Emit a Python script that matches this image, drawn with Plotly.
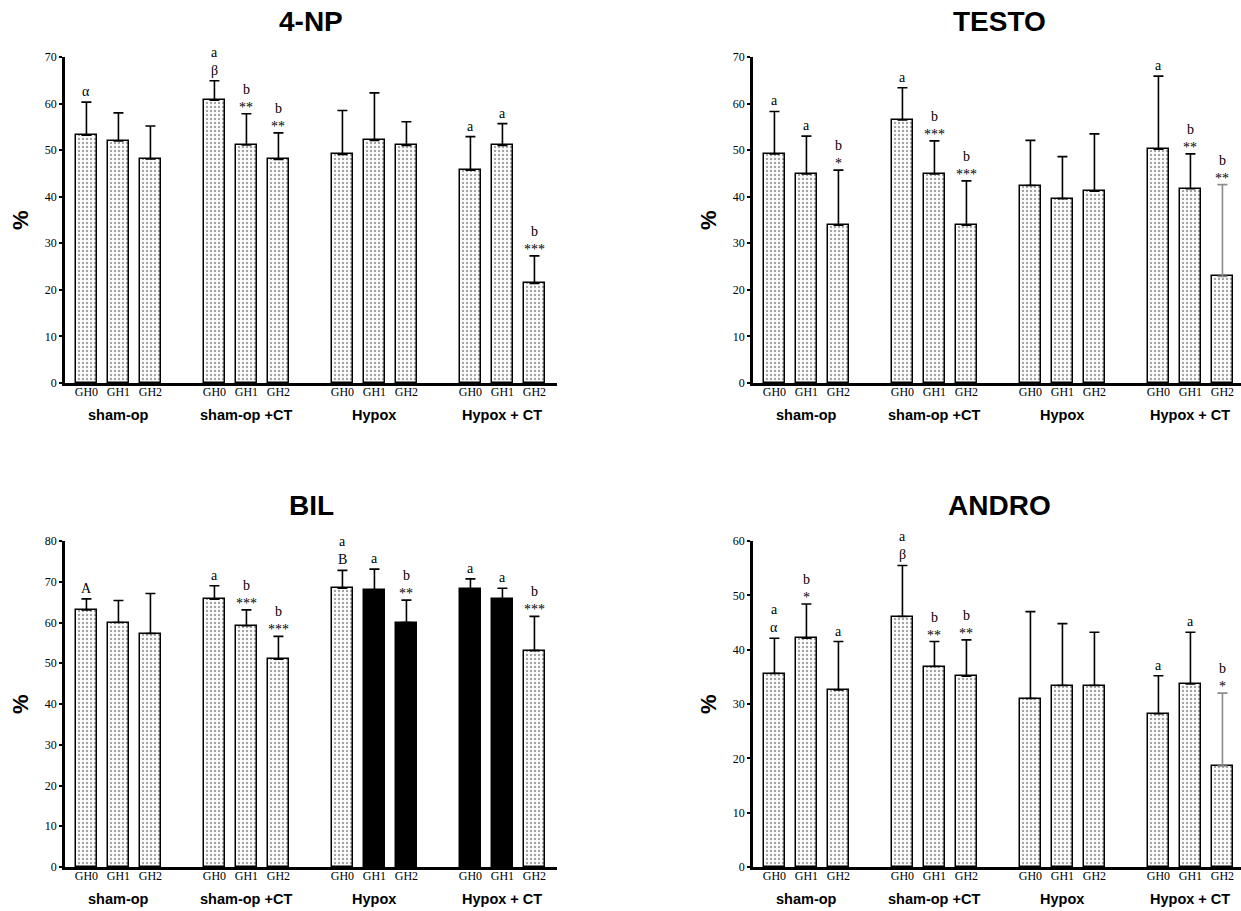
import plotly.graph_objects as go

W, H = 1241, 911

groups = ["sham-op", "sham-op +CT", "Hypox", "Hypox + CT"]
subgroups = ["GH0", "GH1", "GH2"]

np4_mean = [53.2, 52.0, 48.1, 60.7, 51.1, 48.0, 49.1, 52.1, 51.0, 45.7, 51.0, 21.4]
np4_sd = [7.1, 6.0, 7.1, 4.2, 6.7, 5.7, 9.4, 10.2, 5.1, 7.2, 4.7, 5.9]
np4_lower = ["α", "", "", "β", "**", "**", "", "", "", "a", "a", "***"]
np4_upper = ["", "", "", "a", "b", "b", "", "", "", "", "", "b"]

testo_mean = [49.2, 44.9, 33.9, 56.5, 44.9, 33.9, 42.4, 39.6, 41.2, 50.2, 41.7, 22.9]
testo_sd = [9.1, 8.1, 11.8, 6.9, 7.1, 9.5, 9.7, 9.0, 12.3, 15.7, 7.5, 19.7]
testo_lower = ["a", "a", "*", "a", "***", "***", "", "", "", "a", "**", "**"]
testo_upper = ["", "", "b", "", "b", "b", "", "", "", "", "b", "b"]

bil_mean = [63.1, 60.0, 57.3, 65.7, 59.2, 51.0, 68.4, 68.0, 60.0, 68.1, 65.8, 53.1]
bil_sd = [2.7, 5.4, 9.8, 3.3, 3.9, 5.6, 4.4, 5.1, 5.5, 2.6, 2.6, 8.4]
bil_lower = ["A", "", "", "a", "***", "***", "B", "a", "**", "a", "a", "***"]
bil_upper = ["", "", "", "", "b", "b", "a", "", "b", "", "", "b"]
bil_solid = [False, False, False, False, False, False, False, True, True, True, True, False]

andro_mean = [35.6, 42.1, 32.6, 46.1, 36.9, 35.1, 31.0, 33.4, 33.4, 28.2, 33.7, 18.6]
andro_sd = [6.5, 6.3, 8.9, 9.4, 4.6, 6.7, 16.0, 11.4, 9.8, 7.0, 9.5, 13.4]
andro_lower = ["α", "*", "a", "β", "**", "**", "", "", "", "a", "a", "*"]
andro_upper = ["a", "b", "", "a", "b", "b", "", "", "", "", "", "b"]

# whisker style (light grey whiskers in the original print)
grey_whisker = {"TESTO": [11], "ANDRO": [11]}

panels = [
    dict(title="4-NP", mean=np4_mean, sd=np4_sd, lower=np4_lower, upper=np4_upper,
         solid=[False] * 12, ymax=70, px=(65, 557), py=(57, 383)),
    dict(title="TESTO", mean=testo_mean, sd=testo_sd, lower=testo_lower, upper=testo_upper,
         solid=[False] * 12, ymax=70, px=(753, 1241), py=(57, 383)),
    dict(title="BIL", mean=bil_mean, sd=bil_sd, lower=bil_lower, upper=bil_upper,
         solid=bil_solid, ymax=80, px=(65, 557), py=(541, 867)),
    dict(title="ANDRO", mean=andro_mean, sd=andro_sd, lower=andro_lower, upper=andro_upper,
         solid=[False] * 12, ymax=60, px=(753, 1241), py=(541, 867)),
]

positions = [g * 4 + i for g in range(len(groups)) for i in range(len(subgroups))]
ticktext = [s for g in groups for s in subgroups]
group_centers = [g * 4 + 1 for g in range(len(groups))]

SERIF = "Liberation Serif, Times New Roman, serif"
SANS = "Liberation Sans, Arial, sans-serif"
UNIT = 32.0  # px per category step
LEFT_PAD = 0.67


def fx(px):
    return px / W


def fy(py):
    return 1 - py / H


fig = go.Figure()
layout = dict(width=W, height=H, margin=dict(l=0, r=0, t=0, b=0, autoexpand=False),
              paper_bgcolor="white", plot_bgcolor="white", showlegend=False,
              bargap=0, barmode="overlay", annotations=[])
ann = layout["annotations"]

for k, p in enumerate(panels):
    sfx = "" if k == 0 else str(k + 1)
    xa, ya = "x" + sfx, "y" + sfx
    x0, x1 = p["px"]
    y0, y1 = p["py"]
    greys = grey_whisker.get(p["title"], [])
    for wcol, sel in (("black", [i for i in range(12) if i not in greys]),
                      ("#8c8c8c", greys)):
        if not sel:
            continue
        fig.add_trace(go.Bar(
            x=[positions[i] for i in sel], y=[p["mean"][i] for i in sel], width=0.66,
            xaxis=xa, yaxis=ya,
            marker=dict(color=["black" if p["solid"][i] else "white" for i in sel],
                        line=dict(color="black", width=1.5),
                        pattern=dict(shape=["" if p["solid"][i] else "." for i in sel],
                                     fgcolor="black", size=4, solidity=0.28,
                                     fillmode="overlay")),
            error_y=dict(type="data", array=[p["sd"][i] for i in sel], symmetric=False,
                         arrayminus=[0] * len(sel), color=wcol, thickness=1.6, width=5),
        ))
    rng_hi = -LEFT_PAD + (x1 - x0) / UNIT
    layout["xaxis" + sfx] = dict(
        domain=[fx(x0), fx(x1)], range=[-LEFT_PAD, rng_hi], anchor=ya,
        tickvals=positions, ticktext=ticktext, ticks="", showgrid=False,
        zeroline=False, showline=True, linecolor="black", linewidth=2.5,
        automargin=False, ticklabeloverflow="allow", ticklabelstandoff=-4,
        tickfont=dict(family=SERIF, size=12, color="black"), fixedrange=True)
    layout["yaxis" + sfx] = dict(
        domain=[fy(y1), fy(y0)], range=[0, p["ymax"]], anchor=xa,
        dtick=10, ticks="outside", ticklen=3, tickwidth=1.5, tickcolor="black",
        showgrid=False, zeroline=False, showline=True, linecolor="black",
        automargin=False, ticklabeloverflow="allow",
        linewidth=2.5, tickfont=dict(family=SERIF, size=12, color="black"),
        fixedrange=True)
    # title
    ann.append(dict(text="<b>" + p["title"] + "</b>", xref="paper", yref="paper",
                    x=fx((x0 + x0 + 492) / 2), y=fy(y0 - 36),
                    showarrow=False, font=dict(family=SANS, size=28, color="black"),
                    xanchor="center", yanchor="middle"))
    # y label
    ann.append(dict(text="<b>%</b>", xref="paper", yref="paper",
                    x=fx(x0 - 45), y=fy(y0 + 163), textangle=-90,
                    showarrow=False, font=dict(family=SANS, size=22, color="black"),
                    xanchor="center", yanchor="middle"))
    # group labels
    for gc, gname in zip(group_centers, groups):
        ann.append(dict(text="<b>" + gname + "</b>", xref=xa, yref="paper",
                        x=gc, y=fy(y1 + 32), showarrow=False,
                        font=dict(family=SANS, size=14.5, color="black"),
                        xanchor="center", yanchor="middle"))
    # significance labels
    for xi, m, s, lo, up in zip(positions, p["mean"], p["sd"], p["lower"], p["upper"]):
        top = m + s
        stars = lo.startswith("*")
        if lo:
            ann.append(dict(text=lo, x=xi, y=top, xref=xa, yref=ya, showarrow=False,
                            xanchor="center", yanchor="bottom",
                            yshift=-3 if stars else 1,
                            font=dict(family=SERIF, size=14, color="black")))
        if up:
            ann.append(dict(text=up, x=xi, y=top, xref=xa, yref=ya, showarrow=False,
                            xanchor="center", yanchor="bottom",
                            yshift=15 if stars else 19,
                            font=dict(family=SERIF, size=14, color="black")))

fig.update_layout(**layout)
fig.write_html("out.html", config={"displayModeBar": False},
               post_script="document.body.style.margin='0';"
                           "document.body.style.overflow='hidden';")
